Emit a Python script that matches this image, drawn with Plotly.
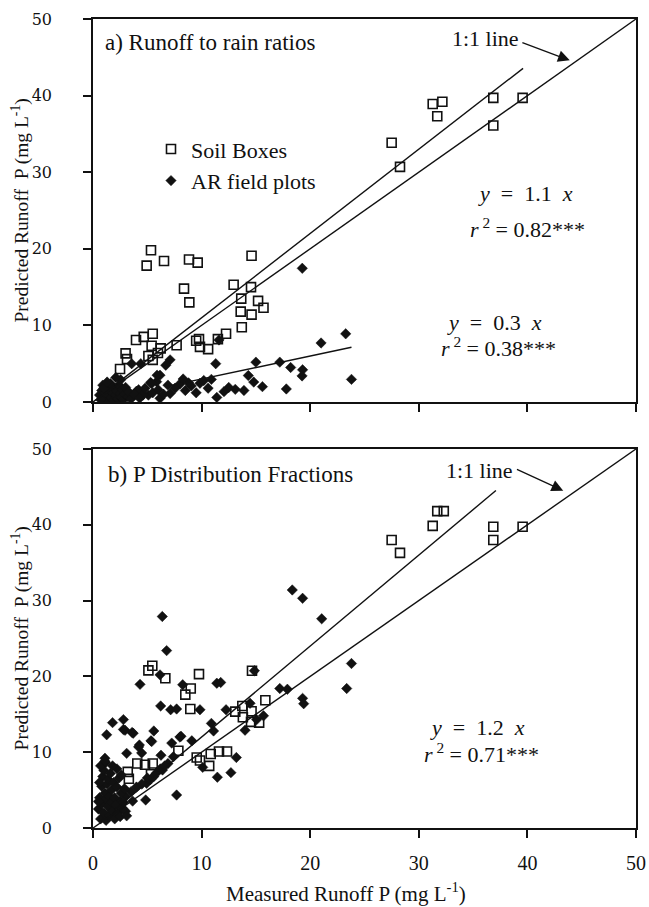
import plotly.graph_objects as go

# ---------------- data ----------------
# Panel a) Runoff to rain ratios
a_box_x = [5.34, 4.94, 6.54, 8.84, 9.64, 14.6, 8.38, 8.87, 12.95, 14.55, 13.65, 15.2, 15.7, 13.6, 14.6,
           13.7, 12.25, 11.5, 10.6, 9.76, 9.5, 9.85, 7.7, 5.5, 4.67, 3.96, 5.4, 6.23, 5.98, 5.5, 5.1,
           3.0, 3.13, 2.49, 27.5, 28.27, 31.28, 32.17, 31.7, 36.86, 36.86, 39.56]
a_box_y = [19.8, 17.8, 18.4, 18.6, 18.2, 19.1, 14.8, 13.0, 15.3, 15.0, 13.5, 13.2, 12.3, 11.8, 11.4,
           9.75, 8.9, 8.2, 6.9, 8.2, 8.0, 7.2, 7.4, 8.9, 8.5, 8.1, 7.35, 7.0, 6.4, 5.5, 6.0,
           6.35, 5.6, 4.3, 33.85, 30.7, 38.9, 39.2, 37.3, 39.7, 36.1, 39.7]

a_ar_x = [19.27, 23.27, 21.0, 23.8, 19.3, 19.25, 18.2, 17.2, 17.8, 15.0, 14.3, 14.8, 15.6, 13.9, 13.1,
          12.5, 12.06, 11.4, 11.3, 11.6, 10.9, 10.6, 9.85, 9.05, 8.0, 7.55, 7.1, 7.1, 6.7, 6.17,
          5.86, 5.3, 6.17, 5.1, 4.4, 3.56, 4.0, 3.4, 2.55, 2.1, 8.8, 6.9, 5.9, 5.4, 4.2, 4.6,
          0.6, 0.8, 1.0, 1.1, 1.2, 1.3, 1.4, 1.5, 1.6, 1.7, 1.8, 1.9, 2.0, 2.1, 2.2, 2.3, 2.4, 2.5,
          2.6, 2.7, 2.8, 2.9, 3.0, 3.2, 3.3, 3.5, 0.9, 1.0, 1.3, 0.7, 3.8, 4.3, 4.8, 5.5, 6.0, 6.5,
          8.5, 9.5, 10.2, 8.3]
a_ar_y = [17.45, 8.9, 7.7, 2.95, 4.2, 3.4, 4.5, 5.2, 1.7, 5.2, 3.45, 2.6, 2.0, 1.5, 1.65,
          1.9, 1.35, 0.6, 5.0, 8.1, 2.95, 1.8, 2.45, 2.1, 2.35, 1.8, 1.1, 5.5, 4.8, 3.5,
          2.65, 2.55, 0.48, 0.9, 5.0, 5.0, 1.4, 0.7, 2.9, 3.2, 2.5, 2.2, 3.5, 2.4, 1.6, 0.9,
          0.9, 1.5, 0.5, 1.2, 2.0, 0.3, 0.9, 1.6, 2.4, 0.6, 1.2, 0.2, 1.8, 0.9, 1.4, 0.4, 2.2, 1.1,
          0.6, 1.6, 0.3, 1.0, 1.9, 0.7, 1.3, 0.4, 2.2, 1.8, 2.6, 0.3, 1.0, 0.5, 1.8, 1.2, 1.6, 1.0,
          1.5, 1.2, 2.8, 3.0]

# Panel b) P Distribution Fractions
b_box_x = [31.7, 32.3, 31.28, 27.5, 28.27, 36.86, 36.86, 39.56,
           5.1, 5.46, 6.66, 9.76, 14.64, 9.0, 8.5, 8.96, 15.87, 13.1, 13.75, 14.6, 13.8, 14.55, 15.3,
           7.86, 9.55, 9.85, 10.7, 10.84, 11.6, 12.34, 4.08, 4.79, 5.5, 5.34, 3.2, 3.3]
b_box_y = [41.8, 41.8, 39.85, 38.0, 36.3, 39.75, 38.0, 39.75,
           20.8, 21.4, 19.75, 20.3, 20.75, 18.4, 17.6, 15.7, 16.85, 15.35, 16.1, 15.4, 14.6, 14.0, 13.9,
           10.2, 9.3, 8.9, 8.2, 9.76, 10.1, 10.1, 8.5, 8.35, 8.5, 7.1, 7.4, 6.5]

b_ar_x = [23.8, 23.36, 6.38, 18.35, 19.3, 21.06, 6.78, 6.17, 4.33, 8.26, 11.4, 11.76, 14.86, 17.2,
          17.9, 19.3, 19.4, 6.23, 7.15, 7.7, 9.85, 12.25, 14.46, 15.7, 15.07, 14.0, 11.1, 10.9, 9.1,
          8.0, 7.25, 7.4, 5.6, 5.34, 4.27, 4.48, 3.1, 3.6, 2.8, 2.8, 1.8, 1.26, 1.1, 1.15, 6.26, 6.9,
          6.4, 13.2, 12.7, 11.45, 10.1, 7.7, 4.85, 3.65, 4.94, 5.3, 5.6, 2.95, 3.7, 5.4, 4.2, 8.1,
          2.5, 3.0, 3.5, 4.0, 4.5, 5.0, 5.8, 6.2, 6.6,
          0.5, 0.6, 0.7, 0.8, 0.8, 0.9, 1.0, 1.0, 1.1, 1.2, 1.2, 1.3, 1.4, 1.4, 1.5, 1.5, 1.6, 1.7,
          1.7, 1.8, 1.9, 2.0, 2.0, 2.1, 2.2, 2.3, 2.4, 2.5, 2.6, 2.7, 2.8, 2.9, 3.0, 3.1, 0.6, 0.7,
          1.1, 0.5, 2.2, 1.8, 2.6]
b_ar_y = [21.7, 18.4, 27.9, 31.4, 30.3, 27.6, 23.4, 20.2, 18.95, 18.9, 19.1, 19.2, 20.75, 18.4,
          18.3, 17.1, 16.4, 16.1, 15.6, 15.7, 15.6, 15.6, 16.45, 14.8, 14.3, 12.9, 12.8, 13.8, 11.5,
          12.0, 11.2, 9.4, 12.8, 11.5, 10.95, 9.9, 9.85, 12.6, 13.0, 14.3, 13.9, 12.3, 9.2, 8.6, 9.6,
          8.5, 7.65, 9.3, 7.3, 6.7, 8.0, 4.35, 3.7, 3.55, 5.9, 6.4, 6.8, 12.9, 12.5, 11.4, 10.7, 12.1,
          3.5, 4.2, 4.8, 5.4, 5.8, 6.6, 7.2, 7.8, 8.2,
          2.5, 4.0, 1.2, 5.5, 3.2, 6.8, 2.0, 7.6, 4.6, 1.0, 3.8, 5.8, 2.8, 6.4, 1.6, 4.2, 7.2, 3.4,
          5.0, 2.2, 6.0, 1.2, 4.0, 3.0, 5.4, 2.0, 6.6, 1.5, 4.6, 2.6, 3.4, 5.2, 2.2, 1.6, 6.0, 8.2,
          8.8, 3.5, 7.8, 8.2, 7.0]

# regression / reference lines: (slope, x_start, x_end)
one_to_one = (1.0, 0.0, 50.0)
a_box_fit = (1.1, 2.0, 39.6)
a_ar_fit = (0.3, 7.0, 23.8)
b_fit = (1.2, 2.0, 37.1)

FONT = "Liberation Serif, Times New Roman, serif"
BLACK = "#111111"

# page geometry (pixels)
W, H = 649, 907
ML, MR, MT, MB = 52, 13, 19, 79
PLOT_LEFT = 93
PW = W - ML - MR
XD0 = (PLOT_LEFT - ML) / PW


def px_to_paper_x(px):
    return (px - ML) / PW


def line_pts(spec):
    m, x0, x1 = spec
    return [x0, x1], [m * x0, m * x1]


fig = go.Figure()

sq = dict(symbol="square-open", size=9, color=BLACK, line=dict(width=1.6, color=BLACK))
dm = dict(symbol="diamond", size=8, color=BLACK, line=dict(width=0.5, color=BLACK))

# Panel a
fig.add_trace(go.Scatter(x=a_box_x, y=a_box_y, mode="markers", marker=sq, name="Soil Boxes",
                         legendgroup="g1", xaxis="x", yaxis="y"))
fig.add_trace(go.Scatter(x=a_ar_x, y=a_ar_y, mode="markers", marker=dm, name="AR field plots",
                         legendgroup="g2", xaxis="x", yaxis="y"))
for spec in (one_to_one, a_box_fit, a_ar_fit):
    lx, ly = line_pts(spec)
    fig.add_trace(go.Scatter(x=lx, y=ly, mode="lines", line=dict(color=BLACK, width=1.4),
                             showlegend=False, xaxis="x", yaxis="y", hoverinfo="skip"))

# Panel b
fig.add_trace(go.Scatter(x=b_box_x, y=b_box_y, mode="markers", marker=sq, showlegend=False,
                         xaxis="x2", yaxis="y2"))
fig.add_trace(go.Scatter(x=b_ar_x, y=b_ar_y, mode="markers", marker=dm, showlegend=False,
                         xaxis="x2", yaxis="y2"))
for spec in (one_to_one, b_fit):
    lx, ly = line_pts(spec)
    fig.add_trace(go.Scatter(x=lx, y=ly, mode="lines", line=dict(color=BLACK, width=1.4),
                             showlegend=False, xaxis="x2", yaxis="y2", hoverinfo="skip"))

# empty traces so the label-only axes are active
fig.add_trace(go.Scatter(x=[], y=[], xaxis="x", yaxis="y3", showlegend=False, hoverinfo="skip"))
fig.add_trace(go.Scatter(x=[], y=[], xaxis="x2", yaxis="y4", showlegend=False, hoverinfo="skip"))

ax_common = dict(range=[0, 50], dtick=10, showgrid=False, zeroline=False, showline=True,
                 linecolor=BLACK, linewidth=1.6, mirror=True, ticks="outside", ticklen=8,
                 tickwidth=1.5, tickcolor=BLACK, automargin=False)
lab_axis = dict(range=[0, 50], dtick=10, showgrid=False, zeroline=False, showline=False,
                ticks="", automargin=False, anchor="free", position=0, side="left",
                tickfont=dict(family="DejaVu Serif, serif", size=16, color=BLACK))

xfont = dict(family=FONT, size=20, color=BLACK)

fig.update_layout(
    width=W, height=H,
    margin=dict(l=ML, r=MR, t=MT, b=MB, autoexpand=False),
    paper_bgcolor="white", plot_bgcolor="white",
    xaxis=dict(**ax_common, domain=[XD0, 1], anchor="y", showticklabels=False),
    yaxis=dict(**ax_common, domain=[0.5266, 1], anchor="x", showticklabels=False),
    xaxis2=dict(**ax_common, domain=[XD0, 1], anchor="y2", tickfont=xfont, ticklabelstandoff=8),
    yaxis2=dict(**ax_common, domain=[0, 0.4685], anchor="x2", showticklabels=False),
    yaxis3=dict(**lab_axis, overlaying="y"),
    yaxis4=dict(**lab_axis, overlaying="y2"),
    showlegend=True,
    legend=dict(x=px_to_paper_x(151), y=0.865, xanchor="left", yanchor="top",
                bgcolor="rgba(0,0,0,0)",
                font=dict(family=FONT, size=22, color=BLACK), tracegroupgap=0,
                itemsizing="trace"),
)

tf = dict(family=FONT, size=22, color=BLACK)
ann = []
# panel labels
ann.append(dict(x=0.92, y=46.9, xref="x", yref="y", text="a) Runoff to rain ratios",
                showarrow=False, xanchor="left", yanchor="middle",
                font=dict(family=FONT, size=23, color=BLACK)))
ann.append(dict(x=1.2, y=46.6, xref="x2", yref="y2", text="b) P Distribution Fractions",
                showarrow=False, xanchor="left", yanchor="middle",
                font=dict(family=FONT, size=23, color=BLACK)))
# 1:1 line labels + arrows
ann.append(dict(x=36.1, y=47.5, xref="x", yref="y", text="1:1 line", showarrow=False,
                xanchor="center", yanchor="middle", font=tf))
ann.append(dict(x=43.9, y=44.6, xref="x", yref="y", ax=39.4, ay=47.0, axref="x", ayref="y",
                text="", showarrow=True, arrowhead=2, arrowsize=1.8, arrowwidth=1.3,
                arrowcolor=BLACK))
ann.append(dict(x=35.6, y=47.1, xref="x2", yref="y2", text="1:1 line", showarrow=False,
                xanchor="center", yanchor="middle", font=tf))
ann.append(dict(x=43.3, y=44.5, xref="x2", yref="y2", ax=38.9, ay=47.4, axref="x2", ayref="y2",
                text="", showarrow=True, arrowhead=2, arrowsize=1.8, arrowwidth=1.3,
                arrowcolor=BLACK))
# equations
eqs = [
    ("x", "y", 39.8, 27.2, "<i>y</i>  =  1.1  <i>x</i>"),
    ("x", "y", 40.05, 22.7, "<i>r</i><sup> 2</sup> = 0.82***"),
    ("x", "y", 37.0, 10.4, "<i>y</i>  =  0.3  <i>x</i>"),
    ("x", "y", 37.3, 7.2, "<i>r</i><sup> 2</sup> = 0.38***"),
    ("x2", "y2", 35.45, 13.3, "<i>y</i>  =  1.2  <i>x</i>"),
    ("x2", "y2", 35.8, 9.9, "<i>r</i><sup> 2</sup> = 0.71***"),
]
for xr, yr, xx, yy, t in eqs:
    ann.append(dict(x=xx, y=yy, xref=xr, yref=yr, text=t, showarrow=False,
                    xanchor="center", yanchor="middle", font=tf))
# axis titles
ytitle = "Predicted Runoff  P (mg L<sup>-1</sup>)"
for yc in (0.7633, 0.2343):
    ann.append(dict(x=px_to_paper_x(20), y=yc, xref="paper", yref="paper", text=ytitle,
                    textangle=-90, showarrow=False, xanchor="center", yanchor="middle",
                    font=dict(family=FONT, size=19.5, color=BLACK)))
ann.append(dict(x=px_to_paper_x(346), y=-0.08, xref="paper", yref="paper",
                text="Measured Runoff P (mg L<sup>-1</sup>)", showarrow=False,
                xanchor="center", yanchor="middle", font=dict(family=FONT, size=21, color=BLACK)))

fig.update_layout(annotations=ann)

fig.write_html("out.html", config={"displayModeBar": False},
               post_script="document.body.style.margin='0';document.body.style.overflow='hidden';")
